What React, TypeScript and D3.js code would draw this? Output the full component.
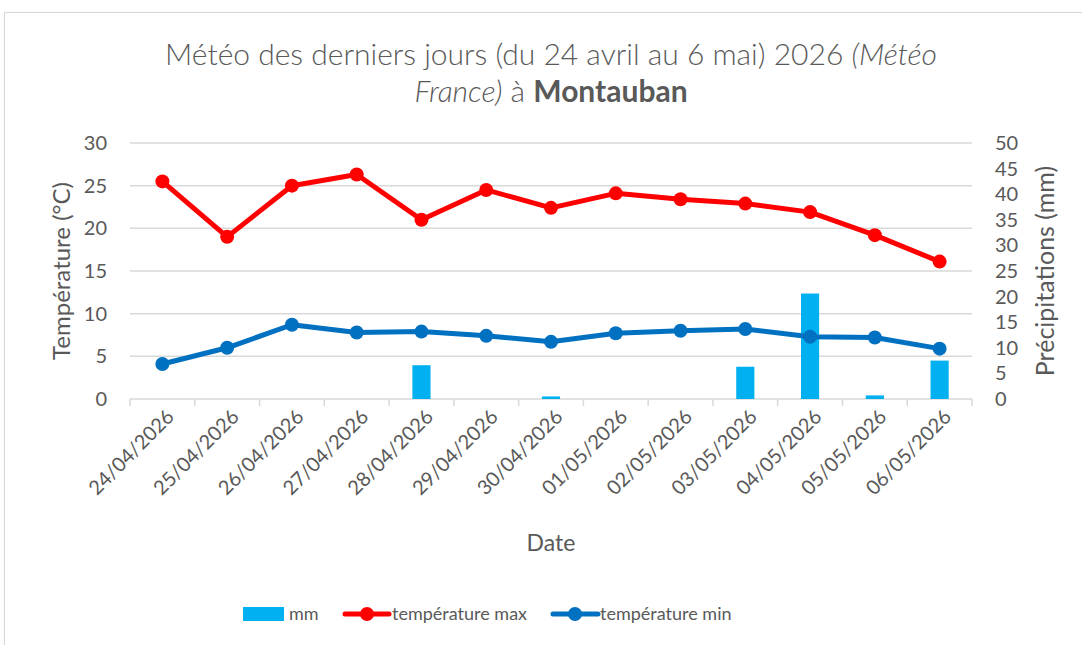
import React from 'react'
import { scaleBand, scaleLinear, line } from 'd3'

const dates = [
  '24/04/2026', '25/04/2026', '26/04/2026', '27/04/2026', '28/04/2026', '29/04/2026',
  '30/04/2026', '01/05/2026', '02/05/2026', '03/05/2026', '04/05/2026', '05/05/2026', '06/05/2026'
]
const tempMax = [25.5, 19.0, 25.0, 26.3, 21.0, 24.5, 22.4, 24.1, 23.4, 22.9, 21.9, 19.2, 16.1]
const tempMin = [4.1, 6.0, 8.7, 7.8, 7.9, 7.4, 6.7, 7.7, 8.0, 8.2, 7.3, 7.2, 5.9]
const rainMm = [0, 0, 0, 0, 6.6, 0, 0.5, 0, 0, 6.3, 20.6, 0.7, 7.5]
const leftTicks = [0, 5, 10, 15, 20, 25, 30]
const rightTicks = [0, 5, 10, 15, 20, 25, 30, 35, 40, 45, 50]

const W = 1082
const H = 645
const plot = { left: 130, right: 972, top: 143, bottom: 399 }
const textColor = '#595959'
const gridColor = '#d9d9d9'
const font = 'Lato, "Open Sans", sans-serif'

const App = () => {
  const x = scaleBand<string>().domain(dates).range([plot.left, plot.right])
  const yT = scaleLinear().domain([0, 30]).range([plot.bottom, plot.top])
  const yP = scaleLinear().domain([0, 50]).range([plot.bottom, plot.top])
  const cx = (d: string) => (x(d) ?? 0) + x.bandwidth() / 2
  const barW = x.bandwidth() * 0.28

  const tempLine = line<number>()
    .x((_, i) => cx(dates[i]))
    .y(v => yT(v))

  const series = [
    { values: tempMax, color: '#ff0000' },
    { values: tempMin, color: '#0070c0' }
  ]

  return (
    <svg width={W} height={H} style={{ position: 'absolute', left: 0, top: 0, fontFamily: font }}>
      <rect x={0} y={0} width={W} height={H} fill="#fff" />
      <rect x={4.5} y={12.5} width={1200} height={800} fill="#fff" stroke={gridColor} strokeWidth={1.2} />

      {/* title */}
      <text x={551} y={65} textAnchor="middle" fontSize={30} fontWeight={300} fill={textColor}>
        Météo des derniers jours (du 24 avril au 6 mai) 2026 <tspan fontStyle="italic">(Météo</tspan>
      </text>
      <text x={551} y={102} textAnchor="middle" fontSize={30} fontWeight={300} fill={textColor}>
        <tspan fontStyle="italic">France)</tspan> à <tspan fontWeight="bold">Montauban</tspan>
      </text>

      {/* grid */}
      {leftTicks.filter(t => t > 0).map(t => (
        <line key={t} x1={plot.left} x2={plot.right} y1={yT(t)} y2={yT(t)} stroke={gridColor} strokeWidth={1.5} />
      ))}
      <line x1={plot.left} x2={plot.right} y1={plot.bottom} y2={plot.bottom} stroke={gridColor} strokeWidth={1.5} />
      {[...dates.map(d => x(d) ?? 0), plot.right].map((px, i) => (
        <line key={i} x1={px} x2={px} y1={plot.bottom} y2={plot.bottom + 7} stroke={gridColor} strokeWidth={1.5} />
      ))}

      {/* left axis */}
      {leftTicks.map(t => (
        <text key={t} x={107} y={yT(t)} dy="0.35em" textAnchor="end" fontSize={20} fill={textColor}>{t}</text>
      ))}
      <text transform={`translate(62,${(plot.top + plot.bottom) / 2}) rotate(-90)`} dy="0.35em"
        textAnchor="middle" fontSize={24} fill={textColor}>Température (°C)</text>

      {/* right axis */}
      {rightTicks.map(t => (
        <text key={t} x={995} y={yP(t)} dy="0.35em" textAnchor="start" fontSize={20} fill={textColor}>{t}</text>
      ))}
      <text transform={`translate(1045,${(plot.top + plot.bottom) / 2}) rotate(-90)`} dy="0.35em"
        textAnchor="middle" fontSize={25} fill={textColor}>Précipitations (mm)</text>

      {/* bars */}
      {rainMm.map((v, i) => v > 0 && (
        <rect key={i} x={cx(dates[i]) - barW / 2} y={yP(v)} width={barW} height={plot.bottom - yP(v)} fill="#00b0f0" />
      ))}

      {/* lines */}
      {series.map(s => (
        <g key={s.color}>
          <path d={tempLine(s.values) ?? ''} fill="none" stroke={s.color} strokeWidth={5} strokeLinejoin="round" />
          {s.values.map((v, i) => (
            <circle key={i} cx={cx(dates[i])} cy={yT(v)} r={7} fill={s.color} />
          ))}
        </g>
      ))}

      {/* x labels */}
      {dates.map(d => (
        <text key={d} transform={`translate(${cx(d) + 8},${plot.bottom + 14}) rotate(-45)`} dy="0.35em"
          textAnchor="end" fontSize={20} fill={textColor}>{d}</text>
      ))}
      <text x={(plot.left + plot.right) / 2} y={543} dy="0.35em" textAnchor="middle" fontSize={23} fill={textColor}>Date</text>

      {/* legend */}
      <rect x={243} y={607} width={41} height={14} fill="#00b0f0" />
      <text x={289} y={614} dy="0.35em" fontSize={18} fill={textColor}>mm</text>
      <line x1={345} x2={389} y1={614} y2={614} stroke="#ff0000" strokeWidth={5} strokeLinecap="round" />
      <circle cx={367} cy={614} r={7} fill="#ff0000" />
      <text x={392} y={614} dy="0.35em" fontSize={18} fill={textColor}>température max</text>
      <line x1={553} x2={598} y1={614} y2={614} stroke="#0070c0" strokeWidth={5} strokeLinecap="round" />
      <circle cx={575} cy={614} r={7} fill="#0070c0" />
      <text x={600} y={614} dy="0.35em" fontSize={18} fill={textColor}>température min</text>
    </svg>
  )
}

export default App
